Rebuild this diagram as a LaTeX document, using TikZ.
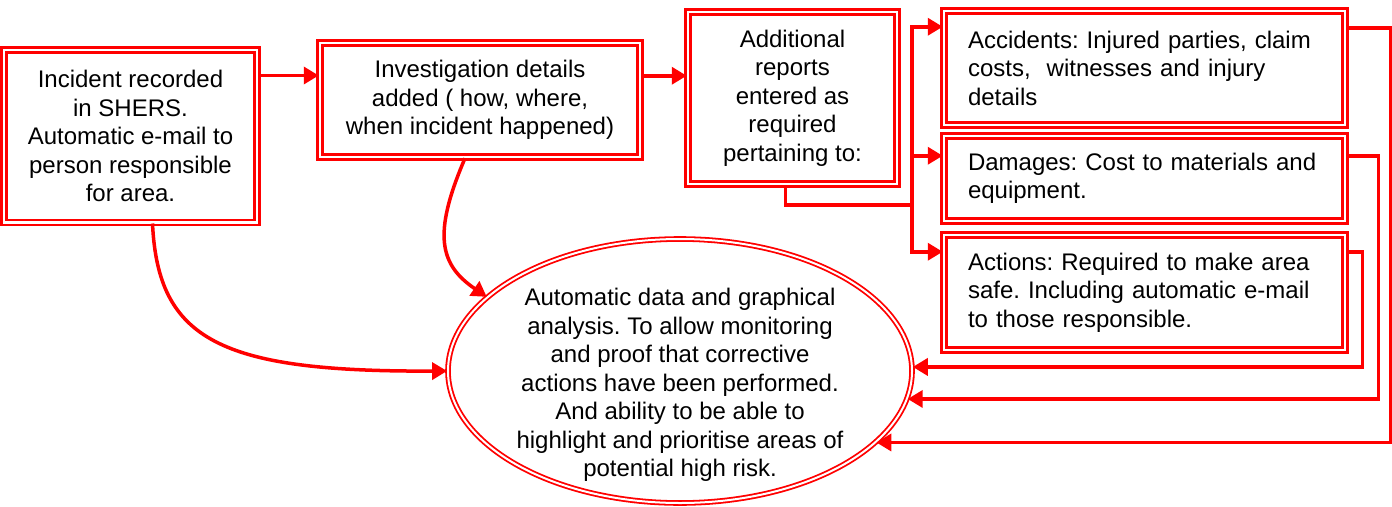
\documentclass[tikz,border=0pt]{standalone}
\usepackage{fontspec}
\setmainfont{Liberation Sans}
\usetikzlibrary{arrows.meta,shapes.geometric}
\frenchspacing

\begin{document}
\begin{tikzpicture} [x=1pt, y=-1pt, font=\fontsize{24}{28.5}\selectfont
  , box/.style={rectangle, draw=red, double, double distance=2.5pt, line width=2.5pt, inner sep=0pt, align=center}
  , lbox/.style={box, align=left, text width=353pt, inner xsep=24pt, minimum height=#1}
  , ell/.style={ellipse, draw=red, double, double distance=2pt, line width=1.8pt, inner sep=0pt}
  , conn/.style={red, line width=3.5pt}
  , >={Triangle[length=15pt,width=17pt]}
]
  \useasboundingbox (0,0) rectangle (1392,506);

  \node[box, minimum width=253pt, minimum height=172.5pt] (inc) at (130.5,136)
    {Incident recorded\\in SHERS.\\Automatic e-mail to\\person responsible\\for area.};
  \node[box, minimum width=320pt, minimum height=114pt] (inv) at (480,100)
    {Investigation details\\added ( how, where,\\when incident happened)};
  \node[box, minimum width=209pt, minimum height=172pt] (add) at (792.5,98)
    {Additional\\reports\\entered as\\required\\pertaining to:};

  \node[lbox=114pt] (acc) at (1144.5,68)
    {Accidents: Injured parties, claim\\costs,\ \ witnesses and injury\\details};
  \node[lbox=85pt] (dam) at (1144.5,178.5)
    {Damages: Cost to materials and\\equipment.};
  \node[lbox=115pt] (act) at (1144.5,292.5)
    {Actions: Required to make area\\safe. Including automatic e-mail\\to those responsible.};

  \node[ell, minimum width=464pt, minimum height=264pt] (ana) at (680,371) {};
  \node[align=center] (anatext) at (680,385)
    {Automatic data and graphical\\analysis. To allow monitoring\\and proof that corrective\\actions have been performed.\\And ability to be able to\\highlight and prioritise areas of\\potential high risk.};

  % top row
  \draw[conn,->] ([yshift=-27pt]inc.north east) coordinate (a1) -- (a1 -| inv.west);
  \draw[conn,->] ([yshift=-34pt]inv.north east) coordinate (a2) -- (a2 -| add.west);

  % fork to the three reports
  \coordinate (fork) at (912,205);
  \draw[conn] ([xshift=-7pt]add.south) |- (fork);
  \draw[conn,->] (fork) |- ([yshift=-17pt]acc.north west);
  \draw[conn,->] (fork) |- ([yshift=-21pt]dam.north west);
  \draw[conn,->] (fork) |- ([yshift=-18pt]act.north west);

  % back into the analysis
  \draw[conn,->] ([yshift=-18pt]acc.north east) -- ++(44,0) |- (ana.-20);
  \draw[conn,->] ([yshift=-21pt]dam.north east) -- ++(32,0) |- (ana.-7);
  \draw[conn,->] ([yshift=-18pt]act.north east) -- ++(16,0) |- (ana.1);

  \draw[conn,->] ([xshift=22pt]inc.south) .. controls (158,340) and (220,372) .. (ana.west);
  \draw[conn,->] ([xshift=-15pt]inv.south) .. controls (432,235) and (440,265) .. (ana.159);
\end{tikzpicture}
\end{document}
